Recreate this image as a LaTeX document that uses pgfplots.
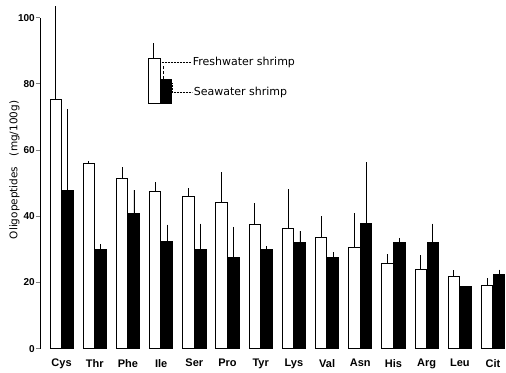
\documentclass[border=0pt]{standalone}
\usepackage{pgfplots}
\pgfplotsset{compat=1.18}
\usepackage{pgfplotstable}
\usepackage{fontspec}
\setmainfont{Liberation Sans}
\newfontfamily\dejavu{DejaVu Sans}
\pgfplotstableread{
x y e
0 75.2 28.2
1 55.9 0.7
2 51.4 3.5
3 47.4 3.0
4 46.1 2.3
5 44.2 9.2
6 37.5 6.5
7 36.3 11.8
8 33.6 6.4
9 30.6 10.4
10 25.7 2.8
11 24.0 4.2
12 21.7 2.2
13 19.0 2.5
}\fresh
\pgfplotstableread{
x y e
0 47.9 24.4
1 30.1 1.5
2 40.8 7.1
3 32.3 5.2
4 30.1 7.7
5 27.7 9.1
6 30.0 1.0
7 32.1 3.4
8 27.7 1.4
9 37.8 18.5
10 32.0 1.5
11 32.2 5.6
12 18.7 0
13 22.5 1.4
}\sea
\begin{document}
\begin{tikzpicture}
\begin{axis}[
  scale only axis, width=466pt, height=331pt,
  xmin=-0.65, xmax=13.39, ymin=0, ymax=100,
  clip=false,
  axis y line*=left, axis x line*=bottom,
  x axis line style={draw=none},
  y axis line style={line width=0.9pt},
  xtick={0,...,13},
  xticklabels={Cys,Thr,Phe,Ile,Ser,Pro,Tyr,Lys,Val,Asn,His,Arg,Leu,Cit},
  x tick style={draw=none},
  ytick={0,20,...,100},
  y tick style={line width=0.9pt},
  tick align=outside, major tick length=4pt,
  /pgf/number format/assume math mode=true,
  x tick label style={font=\fontsize{11}{13}\selectfont\bfseries, yshift=-3pt},
  y tick label style={font=\fontsize{10}{12}\selectfont\bfseries, inner sep=1pt},
  ylabel={Oligopeptides\quad(mg/100g)},
  ylabel style={font=\dejavu\fontsize{10.5}{12}\selectfont,
    at={(axis description cs:0,0.54)}, anchor=south, yshift=17pt},
  every axis plot/.append style={line width=0.9pt},
]
\addplot[ybar, bar width=0.34, bar shift=0pt, draw=black, fill=white,
  error bars/.cd, y dir=plus, y explicit, error mark=none,
  error bar style={line width=0.8pt}]
  table[x expr=\thisrow{x}-0.18, y=y, y error=e]{\fresh};
\addplot[ybar, bar width=0.34, bar shift=0pt, draw=black, fill=black,
  error bars/.cd, y dir=plus, y explicit, error mark=none,
  error bar style={line width=0.6pt}]
  table[x expr=\thisrow{x}+0.18, y=y, y error=e]{\sea};
% legend
\draw[line width=0.9pt, fill=white] (axis cs:2.61,74.0) rectangle (axis cs:2.97,87.8);
\draw[line width=0.9pt, fill=black] (axis cs:2.97,74.0) rectangle (axis cs:3.30,81.4);
\draw[line width=0.8pt] (axis cs:2.76,87.8) -- (axis cs:2.76,92.3);
\draw[line width=0.6pt, densely dashed] (axis cs:3.06,81.4) -- (axis cs:3.06,85.6);
\draw[densely dotted, line width=0.5pt] (axis cs:2.97,86.6) -- (axis cs:3.90,86.6);
\draw[densely dotted, line width=0.5pt] (axis cs:3.33,80.2) -- (axis cs:3.33,77.5) -- (axis cs:3.92,77.5);
\node[anchor=west, inner sep=1pt, font=\dejavu\fontsize{11}{13}\selectfont] at (axis cs:3.92,86.6) {Freshwater shrimp};
\node[anchor=west, inner sep=1pt, font=\dejavu\fontsize{11}{13}\selectfont] at (axis cs:3.95,77.5) {Seawater shrimp};
\end{axis}
\path (current axis.south west) ++(-40pt,-22.5pt) (current axis.north east) ++(0,17.7pt);
\end{tikzpicture}
\end{document}
